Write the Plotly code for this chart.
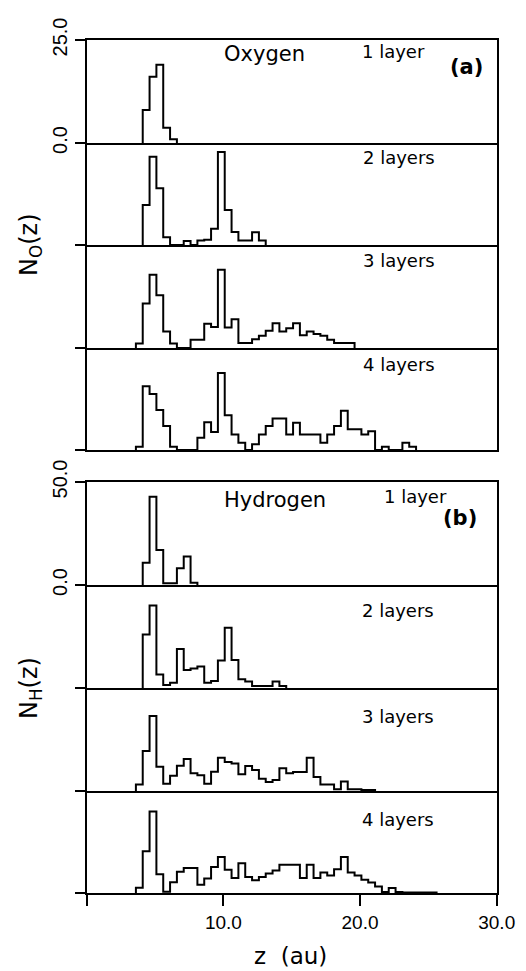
import plotly.graph_objects as go

# ---------------- data ----------------
BIN_WIDTH = 0.5  # au

# Oxygen  N_O(z): first bin left edge and bin heights
o_1layer_start = 4.1
o_1layer = [8.0, 16.1, 19.0, 3.7, 0.9]
o_2layers_start = 4.1
o_2layers = [9.8, 21.6, 13.9, 1.9, 0, 0, 1.0, 0, 1.1, 1.3, 4.0, 22.8, 8.6, 3.2,
             1.1, 1.1, 3.1, 1.1]
o_3layers_start = 3.6
o_3layers = [1.1, 10.8, 17.8, 12.8, 4.0, 1.1, 0, 0, 2.0, 2.0, 5.9, 5.1, 19.0, 5.0,
             7.0, 1.2, 1.2, 2.1, 3.0, 4.2, 6.0, 4.0, 4.8, 6.0, 3.1, 4.0, 3.4, 3.0,
             2.0, 1.2, 1.2, 1.2]
o_4layers_start = 3.6
o_4layers = [0.8, 15.6, 13.7, 9.8, 5.9, 0.8, 0, 0, 0, 3.0, 6.8, 4.4, 18.9, 8.5, 3.8,
             1.8, 0, 1.4, 3.8, 5.9, 7.7, 7.7, 3.8, 6.7, 3.8, 3.8, 3.8, 1.8, 3.8, 5.9,
             9.6, 5.1, 5.1, 3.8, 4.6, 0, 0.8, 0, 0, 1.8, 0.8]

# Hydrogen  N_H(z)
h_1layer_start = 4.1
h_1layer = [10.8, 42.9, 17.0, 0.8, 0.8, 8.1, 13.8, 1.1]
h_2layers_start = 4.1
h_2layers = [26.0, 40.0, 6.6, 1.5, 2.6, 18.9, 8.7, 9.5, 10.4, 2.6, 3.4, 13.3, 29.3,
             13.6, 4.2, 3.1, 1.0, 1.0, 1.0, 3.1, 1.0]
h_3layers_start = 3.6
h_3layers = [3.2, 19.4, 36.4, 11.8, 3.5, 7.4, 12.3, 15.5, 8.6, 7.7, 3.5, 9.3, 16.2,
             14.1, 13.3, 8.1, 12.1, 10.2, 6.0, 4.4, 5.3, 11.0, 8.6, 9.2, 9.2, 16.2,
             6.8, 3.2, 3.2, 0.8, 4.6, 0.8, 0.8, 0.5, 0.5]
h_4layers_start = 3.6
h_4layers = [2.6, 20.5, 40.0, 9.2, 0.6, 5.3, 10.4, 12.2, 12.2, 4.1, 7.1, 12.8, 17.7,
             11.4, 7.3, 14.6, 7.9, 6.3, 7.8, 9.5, 11.0, 13.9, 13.9, 13.9, 7.3, 13.9,
             7.3, 10.0, 8.6, 11.6, 17.7, 10.0, 8.6, 6.5, 5.2, 3.2, 0.5, 2.5, 0.5, 0.3,
             0.3, 0.3, 0.3, 0.3]

layer_labels = ["1 layer", "2 layers", "3 layers", "4 layers"]
o_ymax = 25.0
h_ymax = 50.0
x_range = [0, 30]
x_tickvals = [0, 10, 20, 30]
x_ticktext = ["", "10.0", "20.0", "30.0"]

series = [
    (o_1layer_start, o_1layer), (o_2layers_start, o_2layers),
    (o_3layers_start, o_3layers), (o_4layers_start, o_4layers),
    (h_1layer_start, h_1layer), (h_2layers_start, h_2layers),
    (h_3layers_start, h_3layers), (h_4layers_start, h_4layers),
]

# ---------------- layout geometry (pixels of the page) ----------------
W, H = 526, 971
OFF = 8  # page body margin the figure is placed at
X_LEFT, X_RIGHT = 86.7, 496.7
a_rows = [40, 143, 245, 348, 450]
b_rows = [482, 585, 688, 791, 893]


def px_y(p):
    return 1 - (p - OFF) / H


def px_x(p):
    return (p - OFF) / W


def steps(start, counts):
    xs = [start]
    ys = [0]
    for i, c in enumerate(counts):
        xs.append(start + i * BIN_WIDTH)
        ys.append(c)
    xs.append(start + len(counts) * BIN_WIDTH)
    ys.append(0)
    return xs, ys


fig = go.Figure()
layout = dict(
    width=W, height=H, autosize=False,
    margin=dict(l=0, r=0, t=0, b=0, pad=0, autoexpand=False),
    paper_bgcolor="white", plot_bgcolor="white",
    showlegend=False,
    font=dict(family="DejaVu Sans", color="black"),
)

for i in range(8):
    n = i + 1
    xa = "x" if n == 1 else f"x{n}"
    ya = "y" if n == 1 else f"y{n}"
    start, counts = series[i]
    xs, ys = steps(start, counts)
    fig.add_trace(go.Scatter(x=xs, y=ys, mode="lines", line_shape="hv",
                             line=dict(color="black", width=2),
                             xaxis=xa, yaxis=ya, hoverinfo="skip"))
    rows = a_rows if i < 4 else b_rows
    r = i % 4
    top, bot = rows[r], rows[r + 1]
    ymax = o_ymax if i < 4 else h_ymax
    is_top = (r == 0)
    is_last = (i == 7)
    xkey = "xaxis" if n == 1 else f"xaxis{n}"
    ykey = "yaxis" if n == 1 else f"yaxis{n}"
    xdict = dict(domain=[px_x(X_LEFT), px_x(X_RIGHT)], range=x_range,
                 anchor=ya, showline=True, mirror=is_top, linecolor="black",
                 linewidth=2, showgrid=False, zeroline=False, fixedrange=True,
                 automargin=False)
    if is_last:
        xdict.update(ticks="outside", ticklen=11, tickwidth=1.5,
                     tickcolor="black", tickvals=x_tickvals,
                     ticktext=x_ticktext,
                     tickfont=dict(family="Liberation Sans", size=19))
    else:
        xdict.update(ticks="", showticklabels=False)
    ydict = dict(domain=[px_y(bot), px_y(top)], range=[0, ymax], anchor=xa,
                 showline=True, mirror=True, linecolor="black", linewidth=2,
                 showgrid=False, zeroline=False, fixedrange=True,
                 automargin=False,
                 ticks="outside", ticklen=10, tickwidth=1.5, tickcolor="black",
                 tickangle=-90,
                 tickfont=dict(family="Liberation Sans", size=20))
    if is_top:
        ydict.update(tickvals=[0, ymax], ticktext=["0.0", f"{ymax:.1f}"])
    else:
        ydict.update(tickvals=[0], ticktext=[""])
    layout[xkey] = xdict
    layout[ykey] = ydict

annotations = []


def ann(text, x, y, size, xanchor="center", bold=False, angle=0):
    annotations.append(dict(
        text=f"<b>{text}</b>" if bold else text,
        x=px_x(x), y=px_y(y), xref="paper", yref="paper",
        xanchor=xanchor, yanchor="middle", showarrow=False, textangle=angle,
        font=dict(family="DejaVu Sans", size=size, color="black")))


ann("Oxygen", 264, 54, 21)
ann(layer_labels[0], 360, 51, 18, "left")
ann("(a)", 466, 67, 21, bold=True)
ann(layer_labels[1], 361, 157, 18, "left")
ann(layer_labels[2], 361, 261, 18, "left")
ann(layer_labels[3], 361, 364, 18, "left")

ann("Hydrogen", 275, 500, 21)
ann(layer_labels[0], 382, 497, 18, "left")
ann("(b)", 460, 518, 21, bold=True)
ann(layer_labels[1], 360, 610, 18, "left")
ann(layer_labels[2], 360, 716, 18, "left")
ann(layer_labels[3], 360, 819, 18, "left")

ann("N<sub>O</sub>(z)", 30, 245, 24, angle=-90)
ann("N<sub>H</sub>(z)", 30, 688, 24, angle=-90)
ann("z  (au)", 290, 956, 23)

layout["annotations"] = annotations
fig.update_layout(**layout)
fig.write_html("out.html")
